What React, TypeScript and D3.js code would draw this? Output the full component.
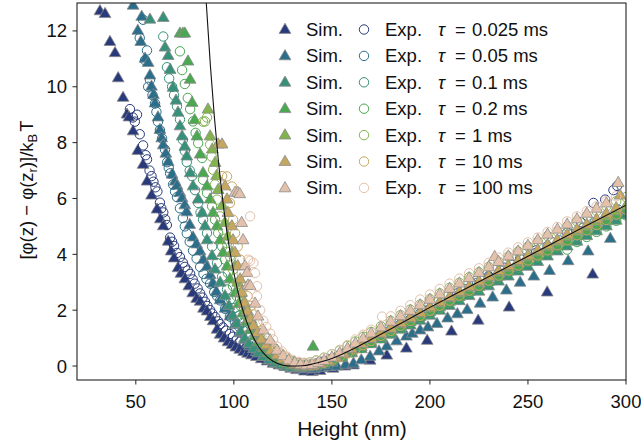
import React from "react";
import * as d3 from "d3";

type P = [number, number];

const tauLabels = ["0.025", "0.05", "0.1", "0.2", "1", "10", "100"];
const colors = ["#283a7c", "#2a6e8b", "#379079", "#4aa850", "#82b34f", "#c6a760", "#e3c1ab"];
const xTicks = [50, 100, 150, 200, 250, 300];
const yTicks = [0, 2, 4, 6, 8, 10, 12];

const theoryX = [85, 86, 88, 90, 92, 94, 96, 98, 100, 103, 106, 110, 115, 120, 125, 130, 135, 140, 145, 150, 160, 170, 180, 190, 200, 225, 250, 275, 300];
const theoryY = [14.15, 12.93, 10.79, 8.97, 7.43, 6.13, 5.03, 4.11, 3.34, 2.4, 1.69, 1.01, 0.47, 0.17, 0.03, 0.0, 0.01, 0.07, 0.16, 0.27, 0.58, 0.95, 1.33, 1.71, 2.1, 3.02, 3.93, 4.85, 5.76];

const sim025: P[] = [[31.7,12.7],[34.3,12.6],[36.8,11.6],[39.4,11.2],[41,10.3],[43.5,9.6],[45.5,9.0],[46.5,8.9],[48.6,8.4],[51,7.7],[53.7,7.2],[55.7,6.6],[58,6.1],[60.8,5.6],[62.5,5.25],[64,5.0],[66.5,4.45],[68,4.1],[69.5,3.85],[71.5,3.5],[73,3.3],[75,3.1],[77,2.85],[79,2.6],[81,2.4],[82.8,2.3],[84.5,2.05],[86.3,1.95],[88,1.75],[89.4,1.6],[91.4,1.3],[93,1.12],[95,0.98],[97,0.85],[99,0.75],[101,0.66],[103,0.58],[105,0.5],[107,0.44],[109,0.38],[111.5,0.32],[114,0.24],[117,0.16],[120,0.08],[123,0.02],[126,-0.04],[129,-0.1],[132,-0.15],[136,-0.2],[140,-0.22],[144,-0.18],[150.6,-0.1],[156.7,-0.02],[161,0.02],[169.5,0.19],[178,0.37],[188,0.62],[198.6,0.9],[211,1.23],[224.6,1.62],[240.4,2.09],[259.8,2.63],[283,3.27]];
const exp025: P[] = [[47,9.2],[48.5,8.9],[50.6,9.0],[49.5,8.75],[52,8.3],[53.7,7.9],[55,7.55],[55.7,7.4],[57,7.0],[58,6.8],[59,6.6],[60,6.4],[61,6.25],[62.3,5.85],[63,5.65],[64,5.5],[65,5.25],[65.8,5.05],[67.5,4.6],[68.5,4.45],[69.5,4.3],[71,4.05],[72.5,3.9],[74,3.7],[75,3.55],[76.5,3.42],[77.7,3.3],[79,3.1],[80,2.95],[81.5,2.78],[82.8,2.6],[84,2.45],[85.3,2.3],[86.5,2.15],[87.9,2.0],[89,1.88],[90.5,1.75],[92,1.6],[93,1.5],[94.5,1.38],[96,1.27],[98,1.15],[99.6,1.05],[101.5,0.95],[103,0.87],[105,0.78],[106.7,0.7],[108.5,0.6],[110,0.52],[111.5,0.45],[113,0.37],[115,0.3],[117.5,0.25],[120,0.2],[122,0.15],[124,0.11],[126,0.08],[128,0.05],[130,0.03],[132.5,0.02],[135,0.02],[137.5,0.03],[140,0.05],[145,0.12],[150,0.25],[156,0.42],[162,0.62],[168,0.82],[175,1.08],[182,1.35],[190,1.66],[198,1.98],[206,2.3],[214,2.6],[222,2.92],[230,3.22],[238,3.52],[246,3.84],[254,4.14],[262,4.45],[270,4.78],[277,5.15],[283.4,5.84],[289.4,5.96],[293.6,6.3],[295.5,6.45]];

const sim05: P[] = [[48.6,12.9],[53,12.5],[51,12.0],[52.5,11.6],[54.7,11.0],[56.3,10.85],[57.2,10.4],[58,10.0],[59,9.7],[59.8,9.4],[61.3,8.9],[62.3,8.45],[63.2,8.15],[64,7.9],[65.3,7.6],[66.5,7.3],[68.5,6.85],[70,6.6],[71,6.45],[72.5,6.2],[73.6,6.0],[75,5.75],[76,5.5],[77.5,5.05],[79.2,4.6],[81,4.35],[82.8,4.1],[84.5,3.8],[86.3,3.55],[88,3.25],[89.4,2.95],[91,2.65],[93,2.35],[95.5,2.05],[98,1.77],[100.5,1.47],[103,1.17],[105.5,0.93],[108,0.7],[111.5,0.5],[115,0.33],[118.5,0.2],[122,0.08],[125.5,0.0],[129,-0.06],[133,-0.1],[137,-0.12],[141,-0.12],[145,-0.08],[149,-0.04],[152.6,-0.02],[157,0.04],[161,0.08],[165,0.2],[169.5,0.33],[174,0.52],[178,0.7],[183,0.88],[188,1.05],[191,1.15],[195,1.27],[199,1.38],[203.6,1.5],[209,1.7],[214,1.85],[219,2.0],[225.6,2.23],[232,2.45],[239,2.7],[246,2.98],[253,3.2],[261,3.4],[270.5,3.75],[280.7,4.1],[292,4.55]];
const exp05: P[] = [[53.7,12.4],[52,11.75],[55.7,11.3],[54.7,10.95],[57.2,10.25],[56.3,10.0],[58.5,9.7],[59.8,9.4],[60.5,9.1],[61.3,8.75],[62.3,8.45],[63.4,8.15],[64.9,7.75],[66,7.3],[66.8,7.1],[67.5,6.9],[69,6.5],[70,6.25],[71,6.05],[72.5,5.65],[74,5.3],[75,5.0],[76,4.75],[77.5,4.45],[79.2,4.13],[81,3.85],[82.8,3.55],[84.5,3.3],[86,3.12],[87.9,2.95],[90,2.65],[91.5,2.5],[93,2.35],[95.5,2.05],[98,1.77],[100.5,1.58],[102.5,1.42],[104.7,1.27],[107,1.1],[109.5,0.95],[111.8,0.8],[114,0.66],[116,0.56],[118.5,0.44],[121,0.34],[123,0.26],[125,0.19],[127.5,0.13],[130,0.08],[133,0.04],[136,0.03],[139,0.05],[142,0.09],[145,0.15],[149,0.24],[153,0.36],[157,0.48],[161,0.62],[165,0.75],[170,0.95],[175,1.12],[180,1.3],[185,1.5],[190,1.68],[195,1.88],[200,2.05],[206,2.28],[212,2.5],[218,2.75],[224,2.98],[230,3.18],[236,3.42],[242,3.62],[248,3.85],[254,4.05],[260,4.3],[266,4.5],[272,4.72],[278,4.95],[284,5.15],[290,5.35],[296,5.6]];

const sim1: P[] = [[57.2,12.4],[64,12.46],[64.9,11.4],[66.5,11.1],[67.5,10.6],[69,9.96],[70.5,9.5],[71.5,9.07],[72.5,8.58],[73.6,8.22],[75,7.85],[76,7.5],[77.7,6.9],[79.2,6.43],[81.8,5.96],[83.8,5.48],[85.3,5.0],[86.3,4.5],[88.9,3.93],[90.4,3.45],[93,2.98],[95.5,2.5],[97.5,2.15],[99.5,1.8],[101.5,1.5],[103.5,1.22],[105.5,0.98],[107.5,0.78],[110,0.6],[112.5,0.45],[115,0.32],[118,0.2],[121,0.1],[124,0.03],[127,-0.03],[130,-0.07],[134,-0.08],[138,-0.06],[142,-0.02],[146,0.04],[150,0.12],[155,0.28],[160,0.45],[165,0.6],[170,0.78],[175,0.95],[180,1.12],[185,1.3],[190,1.45],[195,1.62],[200,1.8],[205,1.98],[210,2.15],[215,2.32],[220,2.5],[225,2.66],[230,2.85],[235,3.02],[240,3.2],[245,3.38],[250,3.55],[255,3.72],[260,3.92],[265,4.1],[270,4.28],[275,4.45],[280,4.65],[285,4.82],[290,5.0],[295,5.2],[300,5.4]];
const exp1: P[] = [[64,11.8],[65.9,10.7],[67,10.3],[68.5,10.0],[69.5,9.7],[71,9.3],[72.5,8.83],[74,8.1],[75,7.7],[76,7.3],[77.5,7.0],[78.7,6.8],[80.2,6.3],[81.8,5.84],[83,5.5],[84.3,5.24],[86.3,4.76],[88.9,4.28],[91.4,3.69],[94,3.2],[96.5,2.74],[98.5,2.4],[100.5,2.08],[102.5,1.8],[104.5,1.55],[106.5,1.32],[108.5,1.12],[111,0.92],[113.5,0.73],[116,0.56],[118.5,0.42],[121,0.3],[124,0.2],[127,0.12],[130,0.06],[133,0.03],[136,0.03],[139,0.04],[142,0.07],[146,0.13],[150,0.22],[155,0.35],[160,0.5],[165,0.66],[170,0.84],[175,1.02],[180,1.2],[185,1.38],[190,1.56],[195,1.73],[200,1.92],[205,2.1],[210,2.28],[215,2.46],[220,2.64],[225,2.82],[230,3.0],[235,3.18],[240,3.37],[245,3.55],[250,3.73],[255,3.92],[260,4.1],[265,4.28],[270,4.47],[275,4.65],[280,4.83],[285,5.01],[290,5.2],[295,5.38],[300,5.56]];

const sim2: P[] = [[72.5,11.9],[74,11.9],[75,11.9],[76.6,10.9],[77.7,10.25],[78.7,9.42],[80,8.8],[81.2,8.22],[82.8,7.57],[84.3,6.9],[86.3,6.43],[87.9,5.96],[89.4,5.48],[91.4,5.0],[93,4.5],[94.5,4.05],[96.5,3.56],[98,3.1],[100.6,2.6],[102.5,2.22],[104.5,1.88],[106.5,1.58],[108.5,1.3],[110.5,1.06],[112.5,0.85],[115,0.64],[117.5,0.46],[120,0.32],[123,0.2],[126,0.1],[129,0.03],[132,-0.02],[135,-0.04],[138,-0.03],[140.4,0.69],[142,0.02],[146,0.1],[150,0.2],[155,0.34],[160,0.5],[165,0.67],[170,0.85],[175,1.03],[180,1.2],[185,1.4],[190,1.57],[195,1.75],[200,1.93],[205,2.1],[210,2.3],[215,2.47],[220,2.65],[225,2.83],[230,3.01],[235,3.2],[240,3.38],[245,3.56],[250,3.74],[255,3.93],[260,4.1],[265,4.3],[270,4.47],[275,4.66],[280,4.84],[285,5.02],[290,5.2],[295,5.4],[300,5.58]];
const exp2: P[] = [[72.5,11.27],[73.6,10.6],[75,10.1],[76.5,9.6],[77.7,9.2],[79.2,8.76],[80.5,8.35],[81.8,7.98],[83.8,7.45],[84.3,6.67],[86.3,6.2],[88.9,5.72],[90.4,5.24],[92,4.76],[94,4.28],[95.5,3.81],[97,3.33],[99.6,2.86],[101.5,2.5],[103.5,2.15],[105.5,1.84],[107.5,1.56],[109.5,1.3],[111.5,1.08],[114,0.86],[116.5,0.66],[119,0.5],[122,0.35],[125,0.22],[128,0.12],[131,0.06],[134,0.02],[137,0.02],[140,0.04],[144,0.09],[148,0.17],[152,0.27],[156,0.38],[160,0.5],[165,0.66],[170,0.84],[175,1.0],[180,1.18],[185,1.36],[190,1.55],[195,1.72],[200,1.9],[205,2.08],[210,2.27],[215,2.45],[220,2.62],[225,2.8],[230,2.98],[235,3.17],[240,3.35],[245,3.52],[250,3.72],[255,3.9],[260,4.07],[265,4.25],[270,4.17],[275,4.44],[280,4.62],[285,4.8],[290,5.0],[295,5.2],[300,5.4]];

const sim1ms: P[] = [[86.8,9.18],[87.9,8.22],[89,7.75],[90.4,7.27],[91.2,6.8],[92,6.3],[94,5.72],[95.5,5.12],[97,4.63],[99,4.05],[100.6,3.57],[102,2.98],[103.5,2.6],[105,2.25],[106.5,1.95],[108,1.68],[110,1.4],[112,1.15],[114,0.93],[116.5,0.72],[119,0.54],[122,0.38],[125,0.24],[128,0.13],[131,0.06],[134,0.02],[137,0.01],[140,0.03],[144,0.1],[148,0.2],[152,0.32],[156,0.45],[160,0.6],[165,0.78],[170,0.96],[175,1.14],[180,1.32],[185,1.5],[190,1.7],[195,1.87],[200,2.06],[205,2.24],[210,2.43],[215,2.6],[220,2.8],[225,2.97],[230,3.16],[235,3.34],[240,3.52],[245,3.7],[250,3.88],[255,4.07],[260,4.25],[265,4.43],[270,4.62],[275,4.8],[280,4.98],[285,5.16],[290,5.35],[295,5.53],[300,5.72]];
const exp1ms: P[] = [[84.3,8.75],[86.3,8.9],[85.3,8.76],[87.9,7.93],[88.7,7.5],[89.4,7.03],[90.4,6.5],[91.4,5.96],[93,5.36],[94.5,4.88],[96.5,4.4],[98,3.93],[99.6,3.45],[101.6,2.98],[103,2.62],[104.5,2.3],[106,2.0],[107.5,1.74],[109.5,1.48],[111.5,1.24],[113.5,1.02],[116,0.8],[118.5,0.62],[121,0.47],[124,0.33],[127,0.22],[130,0.14],[133,0.1],[136,0.1],[139,0.13],[142,0.2],[146,0.3],[150,0.42],[154,0.56],[158,0.72],[162,0.88],[166,1.05],[170,1.22],[175,1.42],[180,1.62],[185,1.82],[190,2.02],[195,2.2],[200,2.4],[205,2.6],[210,2.8],[215,2.98],[220,3.18],[225,3.36],[230,3.55],[235,3.73],[240,3.92],[245,4.1],[250,4.28],[255,4.46],[260,4.65],[265,4.82],[270,5.0],[275,5.18],[280,5.36],[285,5.55],[290,5.72],[295,5.9],[300,6.05]];

const sim10ms: P[] = [[92,7.93],[94,7.93],[95.5,6.43],[96.5,5.96],[97,5.48],[99,5.0],[99.6,4.5],[100.6,4.05],[102,3.57],[103.2,3.1],[104,2.62],[105.5,2.25],[107,1.95],[108.5,1.68],[110,1.43],[112,1.18],[114,0.95],[116.5,0.74],[119,0.55],[122,0.38],[125,0.24],[128,0.12],[131,0.05],[134,0.0],[137,-0.02],[140,0.0],[144,0.08],[148,0.18],[152,0.3],[156,0.44],[160,0.6],[165,0.78],[170,0.97],[175,1.16],[180,1.34],[185,1.53],[190,1.72],[195,1.9],[200,2.1],[205,2.28],[210,2.46],[215,2.65],[220,2.84],[225,3.02],[230,3.2],[235,3.4],[240,3.58],[245,3.76],[250,3.95],[255,4.14],[260,4.32],[265,4.5],[270,4.7],[275,4.88],[280,5.06],[285,5.25],[290,5.45],[295,5.65],[297,6.1]];
const exp10ms: P[] = [[94,6.8],[96.5,6.79],[99,6.43],[98,5.84],[99.6,5.24],[100.6,4.76],[102,4.28],[103.2,3.81],[104,3.33],[105.7,2.86],[107,2.5],[108.5,2.15],[110,1.85],[112,1.55],[114,1.28],[116,1.05],[118.5,0.82],[121,0.62],[124,0.45],[127,0.3],[130,0.18],[133,0.1],[136,0.05],[139,0.04],[142,0.06],[146,0.12],[150,0.2],[154,0.32],[158,0.45],[162,0.6],[166,0.75],[170,0.9],[175,1.08],[180,1.26],[185,1.44],[190,1.62],[195,1.8],[200,1.98],[205,2.16],[210,2.34],[215,2.52],[220,2.7],[225,2.88],[230,3.06],[235,3.24],[240,3.42],[245,3.6],[250,3.78],[255,3.96],[260,4.14],[265,4.32],[270,4.5],[275,4.68],[280,4.86],[285,5.05],[290,5.23],[295,5.42],[300,5.6]];

const sim100ms: P[] = [[100.6,6.2],[102,6.2],[103,6.15],[104,5.12],[104.7,4.5],[105.7,3.57],[106.7,3.33],[107.2,2.88],[108.3,2.86],[110.8,2.23],[112.3,1.77],[115,1.27],[118.5,0.91],[122,0.55],[125,0.35],[128,0.2],[131,0.1],[134,0.04],[137,0.02],[140,0.04],[143,0.1],[146,0.18],[150,0.3],[154,0.45],[158,0.62],[162,0.8],[166,0.98],[170,1.16],[175,1.38],[180,1.58],[185,1.78],[190,1.97],[195,2.17],[200,2.37],[205,2.56],[210,2.76],[215,2.95],[220,3.14],[225,3.33],[230,3.53],[233,3.9],[235,3.72],[240,3.92],[245,4.1],[250,4.3],[255,4.5],[260,4.7],[265,4.88],[270,5.06],[275,5.25],[280,5.45],[285,5.63],[290,5.82],[296,6.55]];
const exp100ms: P[] = [[108.3,5.36],[107.2,3.81],[108.3,3.77],[110,3.69],[110.8,3.33],[111.8,2.86],[111.8,2.5],[113.4,2.0],[115,1.62],[116.5,1.4],[118.5,1.16],[120,0.95],[122,0.7],[124.5,0.52],[127,0.34],[130,0.22],[133,0.15],[136,0.12],[139,0.13],[142,0.18],[146,0.28],[150,0.42],[154,0.58],[158,0.75],[162,0.95],[166,1.12],[170,1.3],[175.6,1.77],[180,1.78],[185,1.98],[190,2.18],[195,2.38],[200,2.56],[205,2.76],[210,2.95],[215,3.13],[220,3.32],[225,3.5],[230,3.7],[235,3.88],[240,4.06],[245,4.25],[250,4.43],[255,4.6],[260,4.8],[265,4.98],[270,5.18],[275,5.36],[280,5.55],[285,5.72],[290,5.9],[295,6.08]];

const simSeries = [sim025, sim05, sim1, sim2, sim1ms, sim10ms, sim100ms];
const expSeries = [exp025, exp05, exp1, exp2, exp1ms, exp10ms, exp100ms];

const W = 641, H = 448;
const M = { left: 77, right: 626, top: 3, bottom: 380 };
const FONT = "'Liberation Sans', Arial, Helvetica, sans-serif";

export default function App() {
  const x = d3.scaleLinear().domain([20, 300]).range([M.left, M.right]);
  const y = d3.scaleLinear().domain([-0.5, 13]).range([M.bottom, M.top]);
  const tri = d3.symbol().type(d3.symbolTriangle).size(60)() as string;
  const line = d3.line<number>().x((_, i) => x(theoryX[i])).y((_, i) => y(theoryY[i])).curve(d3.curveMonotoneX);
  const lineD = line(theoryX) as string;
  const legendRows = tauLabels.map((t, i) => ({ t, i, yb: 36 + i * 26.4 }));

  return (
    <svg width={W} height={H} style={{ position: "absolute", left: 0, top: 0, background: "#fff" }} fontFamily={FONT}>
      <defs>
        <clipPath id="plotclip">
          <rect x={M.left} y={M.top} width={M.right - M.left} height={M.bottom - M.top} />
        </clipPath>
      </defs>
      <g clipPath="url(#plotclip)">
        {simSeries.map((s, k) => (
          <g key={"g" + k}>
            {s.map((p, j) => (
              <path key={"s" + j} d={tri} transform={`translate(${x(p[0])},${y(p[1])})`} fill={colors[k]} stroke="#8a8a8a" strokeWidth={0.8} />
            ))}
            {expSeries[k].map((p, j) => (
              <circle key={"e" + j} cx={x(p[0])} cy={y(p[1])} r={4.7} fill="none" stroke={colors[k]} strokeWidth={1} />
            ))}
          </g>
        ))}
        <path d={lineD} fill="none" stroke="#111" strokeWidth={1.1} />
      </g>
      <rect x={M.left} y={M.top} width={M.right - M.left} height={M.bottom - M.top} fill="none" stroke="#222" strokeWidth={1.1} />
      {xTicks.map((t) => (
        <g key={"xt" + t}>
          <line x1={x(t)} x2={x(t)} y1={M.bottom} y2={M.bottom + 4.5} stroke="#222" strokeWidth={1} />
          <text x={x(t)} y={407.5} textAnchor="middle" fontSize={18.5} fill="#111">{t}</text>
        </g>
      ))}
      {yTicks.map((t) => (
        <g key={"yt" + t}>
          <line x1={M.left - 4.5} x2={M.left} y1={y(t)} y2={y(t)} stroke="#222" strokeWidth={1} />
          <text x={67} y={y(t)} dy="0.35em" textAnchor="end" fontSize={18.5} fill="#111">{t}</text>
        </g>
      ))}
      <text x={352} y={436} textAnchor="middle" fontSize={21} fill="#111">Height (nm)</text>
      <text transform="translate(33,190) rotate(-90)" textAnchor="middle" fontSize={18.5} fill="#111">
        [φ(z) − φ(z<tspan dy={4} fontSize={13}>r</tspan><tspan dy={-4}>)]/k</tspan><tspan dy={4} fontSize={13}>B</tspan><tspan dy={-4} dx={2}>T</tspan>
      </text>
      {legendRows.map((r) => (
        <g key={"lg" + r.i}>
          <path d={tri} transform={`translate(285,${r.yb - 6})`} fill={colors[r.i]} stroke="#8a8a8a" strokeWidth={0.8} />
          <text x={306} y={r.yb} fontSize={18.5} fill="#111">Sim.</text>
          <circle cx={364} cy={r.yb - 6.5} r={4.7} fill="none" stroke={colors[r.i]} strokeWidth={1} />
          <text x={385} y={r.yb} fontSize={18.5} fill="#111">Exp.</text>
          <text x={438} y={r.yb} fontSize={18.5} fill="#111" fontStyle="italic">τ</text>
          <text x={455} y={r.yb} fontSize={18.5} fill="#111">=</text>
          <text x={472} y={r.yb} fontSize={18.5} fill="#111">{r.t} ms</text>
        </g>
      ))}
    </svg>
  );
}
